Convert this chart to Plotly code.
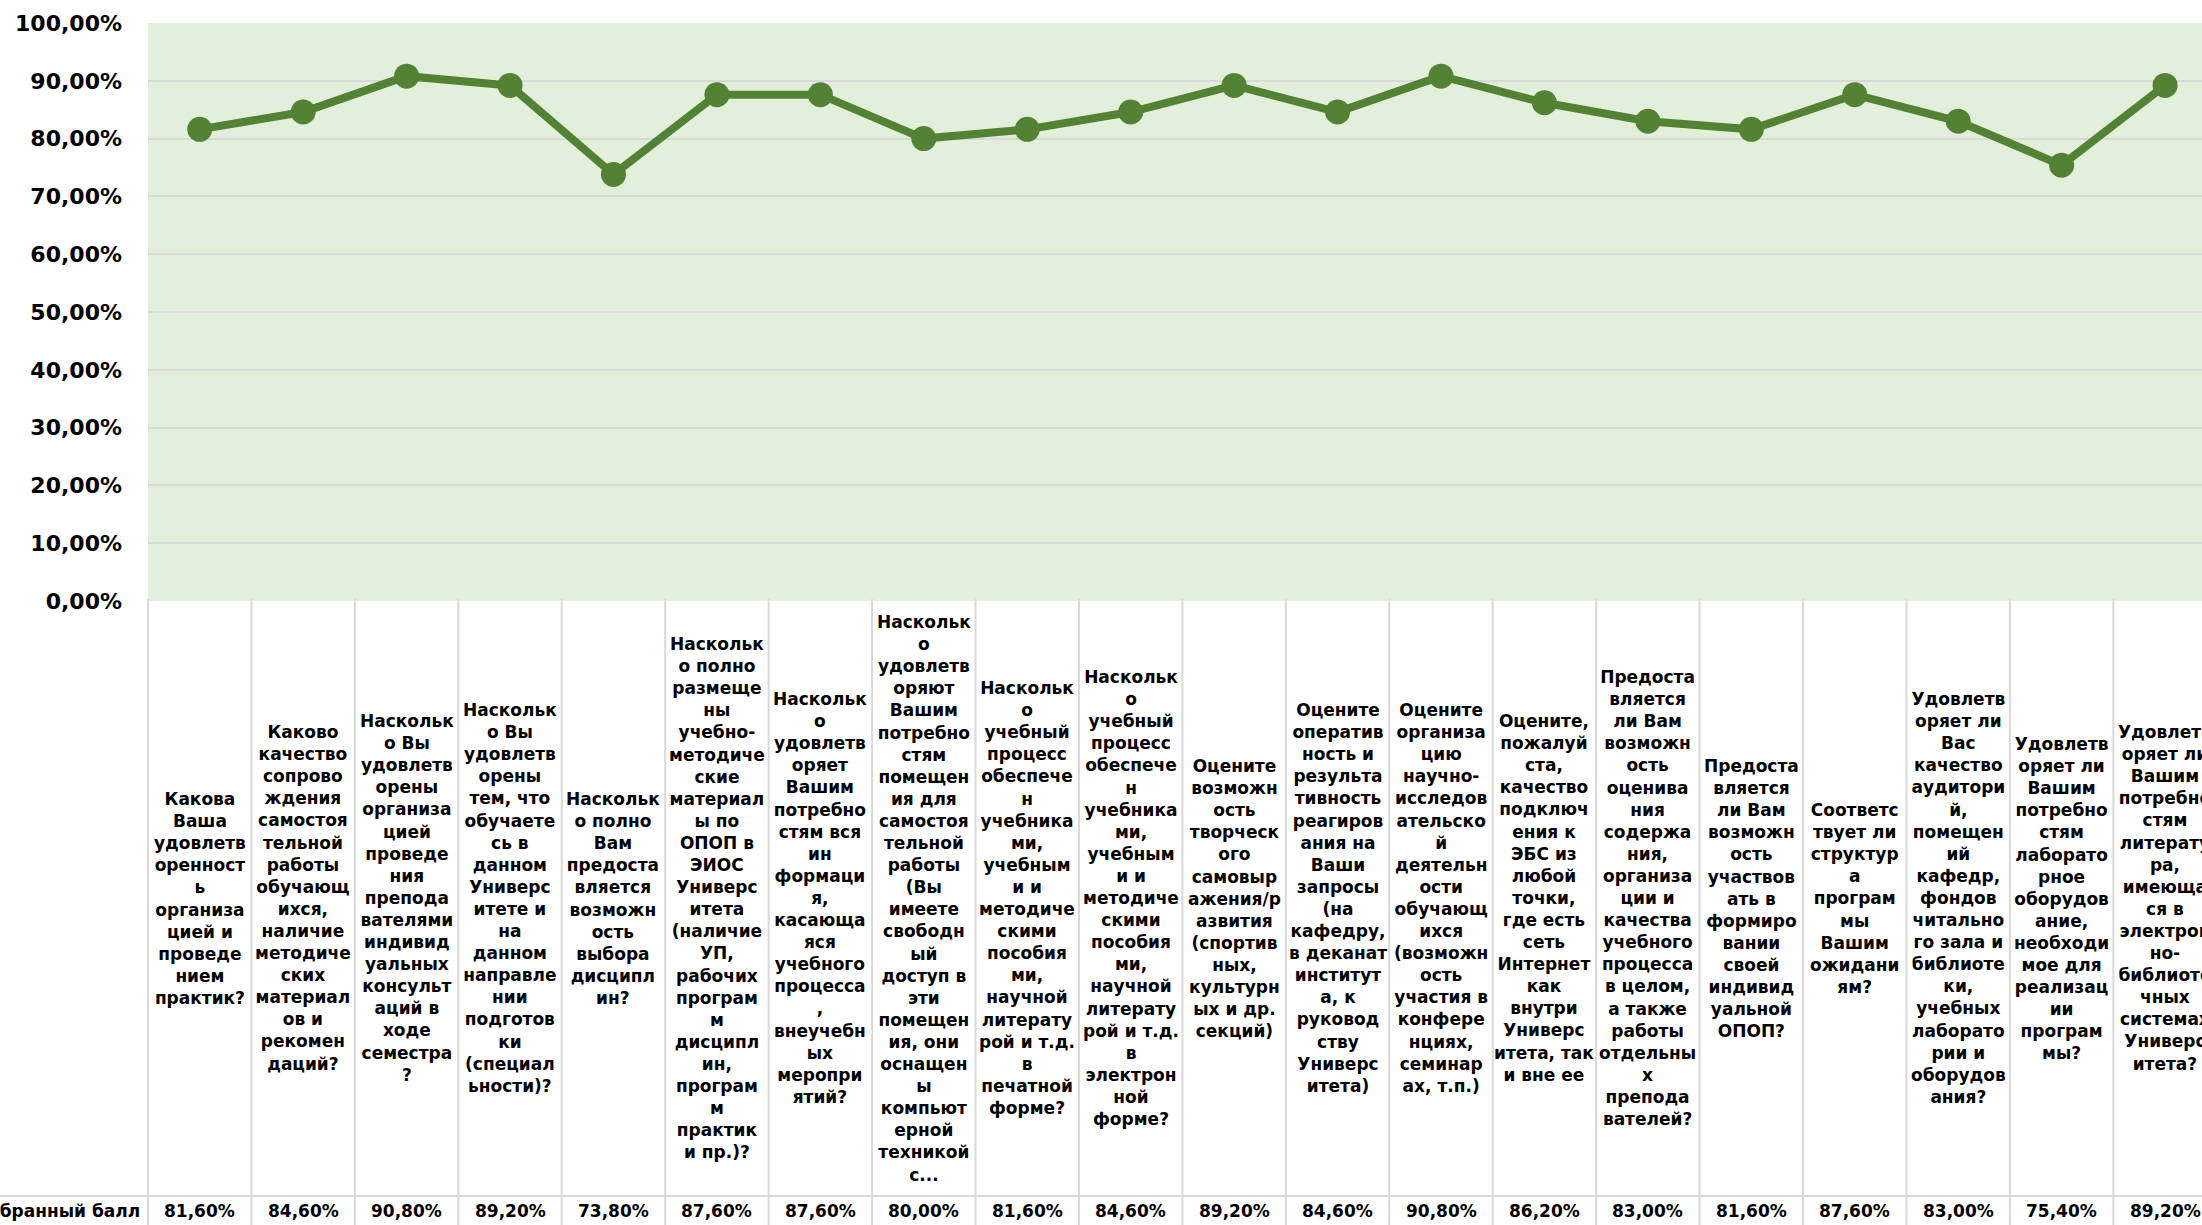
import plotly.graph_objects as go

# ---------------- data ----------------
questions = [
    "Какова<br>Ваша<br>удовлетв<br>оренност<br>ь<br>организа<br>цией и<br>проведе<br>нием<br>практик?",
    "Каково<br>качество<br>сопрово<br>ждения<br>самостоя<br>тельной<br>работы<br>обучающ<br>ихся,<br>наличие<br>методиче<br>ских<br>материал<br>ов и<br>рекомен<br>даций?",
    "Наскольк<br>о Вы<br>удовлетв<br>орены<br>организа<br>цией<br>проведе<br>ния<br>препода<br>вателями<br>индивид<br>уальных<br>консульт<br>аций в<br>ходе<br>семестра<br>?",
    "Наскольк<br>о Вы<br>удовлетв<br>орены<br>тем, что<br>обучаете<br>сь в<br>данном<br>Универс<br>итете и<br>на<br>данном<br>направле<br>нии<br>подготов<br>ки<br>(специал<br>ьности)?",
    "Наскольк<br>о полно<br>Вам<br>предоста<br>вляется<br>возможн<br>ость<br>выбора<br>дисципл<br>ин?",
    "Наскольк<br>о полно<br>размеще<br>ны<br>учебно-<br>методиче<br>ские<br>материал<br>ы по<br>ОПОП в<br>ЭИОС<br>Универс<br>итета<br>(наличие<br>УП,<br>рабочих<br>програм<br>м<br>дисципл<br>ин,<br>програм<br>м<br>практик<br>и пр.)?",
    "Наскольк<br>о<br>удовлетв<br>оряет<br>Вашим<br>потребно<br>стям вся<br>ин<br>формаци<br>я,<br>касающа<br>яся<br>учебного<br>процесса<br>,<br>внеучебн<br>ых<br>меропри<br>ятий?",
    "Наскольк<br>о<br>удовлетв<br>оряют<br>Вашим<br>потребно<br>стям<br>помещен<br>ия для<br>самостоя<br>тельной<br>работы<br>(Вы<br>имеете<br>свободн<br>ый<br>доступ в<br>эти<br>помещен<br>ия, они<br>оснащен<br>ы<br>компьют<br>ерной<br>техникой<br>с...",
    "Наскольк<br>о<br>учебный<br>процесс<br>обеспече<br>н<br>учебника<br>ми,<br>учебным<br>и и<br>методиче<br>скими<br>пособия<br>ми,<br>научной<br>литерату<br>рой и т.д.<br>в<br>печатной<br>форме?",
    "Наскольк<br>о<br>учебный<br>процесс<br>обеспече<br>н<br>учебника<br>ми,<br>учебным<br>и и<br>методиче<br>скими<br>пособия<br>ми,<br>научной<br>литерату<br>рой и т.д.<br>в<br>электрон<br>ной<br>форме?",
    "Оцените<br>возможн<br>ость<br>творческ<br>ого<br>самовыр<br>ажения/р<br>азвития<br>(спортив<br>ных,<br>культурн<br>ых и др.<br>секций)",
    "Оцените<br>оператив<br>ность и<br>результа<br>тивность<br>реагиров<br>ания на<br>Ваши<br>запросы<br>(на<br>кафедру,<br>в деканат<br>институт<br>а, к<br>руковод<br>ству<br>Универс<br>итета)",
    "Оцените<br>организа<br>цию<br>научно-<br>исследов<br>ательско<br>й<br>деятельн<br>ости<br>обучающ<br>ихся<br>(возможн<br>ость<br>участия в<br>конфере<br>нциях,<br>семинар<br>ах, т.п.)",
    "Оцените,<br>пожалуй<br>ста,<br>качество<br>подключ<br>ения к<br>ЭБС из<br>любой<br>точки,<br>где есть<br>сеть<br>Интернет<br>как<br>внутри<br>Универс<br>итета, так<br>и вне ее",
    "Предоста<br>вляется<br>ли Вам<br>возможн<br>ость<br>оценива<br>ния<br>содержа<br>ния,<br>организа<br>ции и<br>качества<br>учебного<br>процесса<br>в целом,<br>а также<br>работы<br>отдельны<br>х<br>препода<br>вателей?",
    "Предоста<br>вляется<br>ли Вам<br>возможн<br>ость<br>участвов<br>ать в<br>формиро<br>вании<br>своей<br>индивид<br>уальной<br>ОПОП?",
    "Соответс<br>твует ли<br>структур<br>а<br>програм<br>мы<br>Вашим<br>ожидани<br>ям?",
    "Удовлетв<br>оряет ли<br>Вас<br>качество<br>аудитори<br>й,<br>помещен<br>ий<br>кафедр,<br>фондов<br>читально<br>го зала и<br>библиоте<br>ки,<br>учебных<br>лаборато<br>рии и<br>оборудов<br>ания?",
    "Удовлетв<br>оряет ли<br>Вашим<br>потребно<br>стям<br>лаборато<br>рное<br>оборудов<br>ание,<br>необходи<br>мое для<br>реализац<br>ии<br>програм<br>мы?",
    "Удовлетв<br>оряет ли<br>Вашим<br>потребно<br>стям<br>литерату<br>ра,<br>имеюща<br>ся в<br>электрон<br>но-<br>библиоте<br>чных<br>системах<br>Универс<br>итета?",
]
values_pct = [81.6, 84.6, 90.8, 89.2, 73.8, 87.6, 87.6, 80.0, 81.6, 84.6,
              89.2, 84.6, 90.8, 86.2, 83.0, 81.6, 87.6, 83.0, 75.4, 89.2]
row_label = "Набранный балл"
y_tick_vals = [0.0, 0.1, 0.2, 0.3, 0.4, 0.5, 0.6, 0.7, 0.8, 0.9, 1.0]

# ---------------- layout constants ----------------
FIG_W, FIG_H = 2202, 1225
PLOT_L, PLOT_T, PLOT_B = 148, 23, 601
COL_W = 103.44
GREEN_LINE = "#548235"
GREEN_BG = "#e2efda"
GRID = "#d9d9d9"
TXT_FONT = "DejaVu Sans"

n = len(values_pct)
x_idx = list(range(n))
x_left = -0.5
x_right = -0.5 + (FIG_W - PLOT_L) / COL_W
span = x_right - x_left
plot_h = PLOT_B - PLOT_T


def py(Y):
    return (PLOT_B - Y) / plot_h


def px_paper(xval):
    return (xval - x_left) / span


cell_font = dict(family=TXT_FONT, size=17, color="#000000", weight="bold")

fig = go.Figure()
fig.add_trace(go.Scatter(
    x=x_idx,
    y=[v / 100 for v in values_pct],
    mode="lines+markers",
    line=dict(color=GREEN_LINE, width=8),
    marker=dict(color=GREEN_LINE, size=25),
    hoverinfo="skip",
    showlegend=False,
    cliponaxis=False,
))

shapes = []
annotations = []
# vertical table borders
for i in range(n + 1):
    xp = px_paper(i - 0.5)
    shapes.append(dict(type="line", xref="paper", yref="paper",
                       x0=xp, x1=xp, y0=py(599), y1=py(FIG_H + 10),
                       line=dict(color=GRID, width=2), layer="above"))
# horizontal border above the value row
shapes.append(dict(type="line", xref="paper", yref="paper",
                   x0=-PLOT_L / (FIG_W - PLOT_L) - 0.01, x1=1.01,
                   y0=py(1196), y1=py(1196),
                   line=dict(color=GRID, width=2), layer="above"))

for i, q in enumerate(questions):
    annotations.append(dict(
        xref="paper", yref="paper", x=px_paper(i), y=py(898),
        xanchor="center", yanchor="middle", align="center",
        text=q, showarrow=False, font=cell_font))
for i, v in enumerate(values_pct):
    annotations.append(dict(
        xref="paper", yref="paper", x=px_paper(i), y=py(1211),
        xanchor="center", yanchor="middle",
        text=f"{v:.2f}".replace(".", ",") + "%", showarrow=False,
        font=cell_font))
annotations.append(dict(
    xref="paper", yref="paper", x=-6 / (FIG_W - PLOT_L), y=py(1211),
    xanchor="right", yanchor="middle",
    text=row_label, showarrow=False, font=cell_font))

fig.update_layout(
    width=FIG_W, height=FIG_H,
    margin=dict(l=PLOT_L, r=0, t=PLOT_T, b=FIG_H - PLOT_B, pad=0),
    paper_bgcolor="white",
    plot_bgcolor=GREEN_BG,
    separators=", ",
    shapes=shapes,
    annotations=annotations,
    xaxis=dict(range=[x_left, x_right], showticklabels=False, showgrid=False,
               zeroline=False, showline=False, ticks=""),
    yaxis=dict(range=[0, 1], tickvals=y_tick_vals, tickformat=".2%",
               showgrid=True, gridcolor=GRID, gridwidth=1.5,
               zeroline=False, showline=False, ticks="",
               ticklabelstandoff=25,
               tickfont=dict(family=TXT_FONT, size=22, color="#000000",
                             weight="bold")),
)

fig.write_html("out.html",
               config={"displayModeBar": False},
               post_script="document.body.style.margin='0';document.body.style.overflow='hidden';")
